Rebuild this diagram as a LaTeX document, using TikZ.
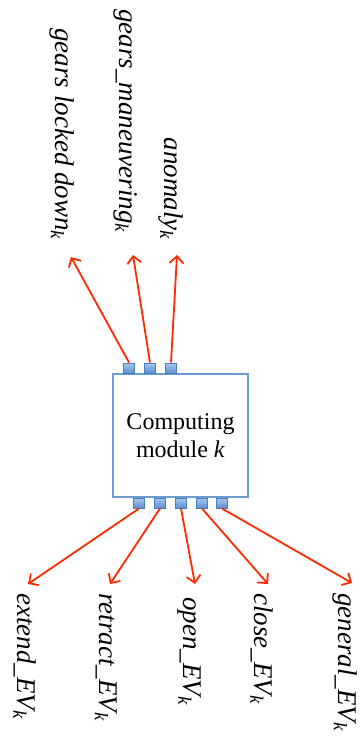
\documentclass[tikz,border=0pt]{standalone}
\usepackage{fontspec}
\setmainfont{Liberation Serif}
\usetikzlibrary{arrows.meta}
\definecolor{arrred}{HTML}{FF2A00}
\definecolor{boxblue}{HTML}{6C9BD2}
\definecolor{portedge}{HTML}{4A7EBB}
\definecolor{porttop}{HTML}{A9C8EE}
\definecolor{portbot}{HTML}{5B8FD0}
\tikzset{
  port/.style={draw=portedge, line width=1pt, top color=porttop, bottom color=portbot,
    minimum width=11pt, minimum height=10pt, inner sep=0pt},
  modbox/.style={draw=boxblue, line width=2pt, fill=white, minimum width=135pt,
    minimum height=123pt, inner sep=0pt, align=center, font=\fontsize{24}{28}\selectfont},
  sig/.style={draw=arrred, line width=1.8pt, -{Straight Barb[length=7pt,width=14pt,line width=1.8pt]}},
  toplab/.style={rotate=-90, anchor=east, inner sep=0pt, font=\fontsize{27}{30}\selectfont\itshape},
  botlab/.style={rotate=-90, anchor=west, inner sep=0pt, font=\fontsize{27}{30}\selectfont\itshape}
}
\begin{document}
\begin{tikzpicture}[x=1pt,y=-1pt]
\useasboundingbox (0,0) rectangle (362,740);
\node[modbox] (m) at (180.5,435.5) {Computing\\module \textit{k}};
% top ports
\node[port] (t1) at (129,368) {};
\node[port] (t2) at (150,368) {};
\node[port] (t3) at (171,368) {};
% bottom ports
\node[port] (b1) at (139,503) {};
\node[port] (b2) at (160,503) {};
\node[port] (b3) at (181,503) {};
\node[port] (b4) at (202,503) {};
\node[port] (b5) at (222,503) {};
% arrow tips
\coordinate (at1) at (71,257);
\coordinate (at2) at (133,255);
\coordinate (at3) at (177,255);
\coordinate (ab1) at (28,584);
\coordinate (ab2) at (110,584);
\coordinate (ab3) at (195,584);
\coordinate (ab4) at (268,584);
\coordinate (ab5) at (352,583);
\draw[sig] (t1.north) -- (at1);
\draw[sig] (t2.north) -- (at2);
\draw[sig] (t3.north) -- (at3);
\draw[sig] (b1.south) -- (ab1);
\draw[sig] (b2.south) -- (ab2);
\draw[sig] (b3.south) -- (ab3);
\draw[sig] (b4.south) -- (ab4);
\draw[sig] (b5.south) -- (ab5);
% labels
\node[toplab] (l1) at (62,240) {gears locked down\textsubscript{k}};
\node[toplab] (l2) at (126,233) {gears\_maneuvering\textsubscript{k}};
\node[toplab] (l3) at (171,240) {anomaly\textsubscript{k}};
\node[botlab] (r1) at (25,593) {extend\_EV\textsubscript{k}};
\node[botlab] (r2) at (106,593) {retract\_EV\textsubscript{k}};
\node[botlab] (r3) at (189,597) {open\_EV\textsubscript{k}};
\node[botlab] (r4) at (262,593) {close\_EV\textsubscript{k}};
\node[botlab] (r5) at (345,593) {general\_EV\textsubscript{k}};
\end{tikzpicture}
\end{document}
